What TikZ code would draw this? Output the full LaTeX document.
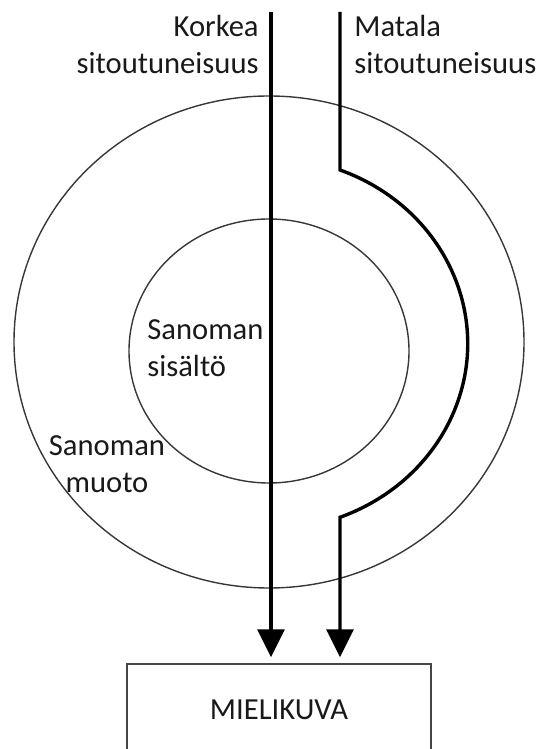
\documentclass[tikz,border=0pt]{standalone}
\usepackage{fontspec}
\setmainfont{Carlito}
\usepackage{xcolor}
\usetikzlibrary{arrows.meta,positioning}
\definecolor{ringGray}{RGB}{55,55,55}
\definecolor{boxGray}{RGB}{70,70,70}
\definecolor{textDark}{RGB}{25,25,25}

\begin{document}
\begin{tikzpicture}[x=0.5pt,y=0.5pt,
  ring/.style={draw=ringGray, line width=0.7pt},
  flow/.style={line width=1.7pt, -{Triangle[width=13.5pt,length=14pt]}, shorten >=3pt},
  lbl/.style={font=\fontsize{15.3pt}{18.5pt}\selectfont, text=textDark, inner sep=0pt},
  mbox/.style={draw=boxGray, line width=0.7pt, minimum width=152pt, minimum height=48pt, inner sep=0pt}]
\useasboundingbox (0,0) rectangle (539,749);
\clip (0,0) rectangle (539,749);

\draw[ring] (269,407) ellipse[x radius=255, y radius=246];
\draw[ring] (269,398) ellipse[x radius=140, y radius=132];

\node[mbox, lbl] (mieli) at (279,37) {\raisebox{2pt}{MIELIKUVA}};

\coordinate (ktop) at (271,737);
\coordinate (mtop) at (340,737);
\coordinate (mbend) at (340,579);

\draw[flow] (ktop) -- (ktop |- mieli.north);
\draw[flow] (mtop) -- (mbend)
  arc[start angle=69, end angle=-69, x radius=199, y radius=186]
  -- (mtop |- mieli.north);

\node[lbl, anchor=east, align=right] (korkea) at (259,705) {Korkea\\sitoutuneisuus};
\node[lbl, anchor=west, align=left] (matala) at (354,705) {Matala\\sitoutuneisuus};
\node[lbl, anchor=west, align=left] (sisalto) at (147,401) {Sanoman\\sisältö};
\node[lbl, align=center] (muoto) at (107,285) {Sanoman\\muoto};
\end{tikzpicture}
\end{document}
